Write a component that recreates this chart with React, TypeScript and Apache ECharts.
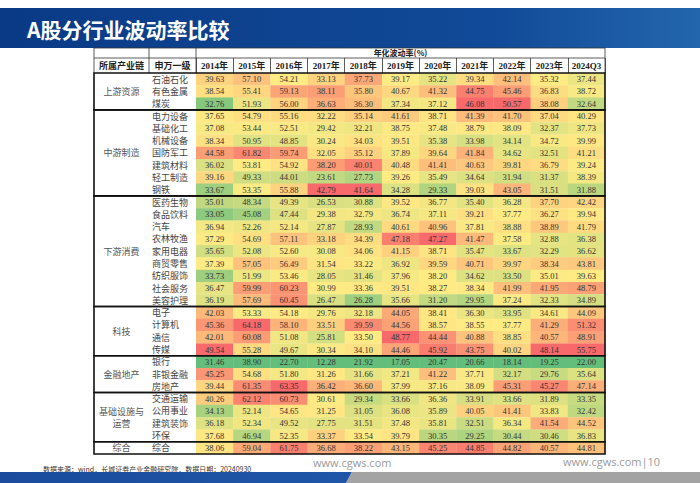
import React, { useEffect, useRef } from 'react';
import * as echarts from 'echarts';

const years = ['2014年', '2015年', '2016年', '2017年', '2018年', '2019年', '2020年', '2021年', '2022年', '2023年', '2024Q3'];

const industries = [
  '石油石化', '有色金属', '煤炭',
  '电力设备', '基础化工', '机械设备', '国防军工', '建筑材料', '轻工制造', '钢铁',
  '医药生物', '食品饮料', '汽车', '农林牧渔', '家用电器', '商贸零售', '纺织服饰', '社会服务', '美容护理',
  '电子', '计算机', '通信', '传媒',
  '银行', '非银金融', '房地产',
  '交通运输', '公用事业', '建筑装饰', '环保',
  '综合',
];

const groupNames = ['上游资源', '中游制造', '下游消费', '科技', '金融地产', '基础设施与\n运营', '综合'];
const groupSizes = [3, 7, 9, 4, 3, 4, 1];

const v2014 = [39.63, 38.54, 32.76, 37.65, 37.08, 38.34, 44.58, 36.02, 39.16, 33.67, 35.01, 33.05, 36.94, 37.29, 35.65, 37.39, 33.73, 36.47, 36.19, 42.03, 45.36, 42.01, 49.54, 31.46, 45.25, 39.44, 40.26, 34.13, 36.18, 37.68, 38.06];
const v2015 = [57.10, 55.41, 51.93, 54.79, 53.44, 50.95, 61.82, 53.81, 49.33, 53.35, 48.34, 45.08, 52.26, 54.69, 52.08, 57.05, 51.99, 59.99, 57.69, 53.33, 64.18, 60.08, 55.28, 38.90, 54.68, 61.35, 62.12, 52.14, 52.34, 46.94, 59.04];
const v2016 = [54.21, 59.13, 56.00, 55.16, 52.51, 48.85, 59.74, 54.92, 44.01, 55.88, 49.39, 47.44, 52.14, 57.11, 52.60, 56.49, 53.46, 60.23, 60.45, 54.18, 58.10, 51.08, 49.67, 22.70, 51.80, 63.35, 60.73, 54.65, 49.52, 52.35, 61.75];
const v2017 = [33.13, 38.11, 36.63, 32.22, 29.42, 30.24, 32.05, 38.20, 23.61, 42.79, 26.53, 29.38, 27.87, 33.18, 30.08, 31.54, 28.05, 30.99, 26.47, 29.76, 33.51, 25.81, 30.34, 12.28, 31.26, 36.42, 30.61, 31.25, 27.75, 33.37, 36.68];
const v2018 = [37.73, 35.80, 36.30, 35.14, 32.21, 34.03, 35.12, 40.01, 27.73, 41.64, 30.88, 32.79, 28.93, 34.39, 34.06, 33.22, 31.46, 33.36, 26.28, 32.18, 39.59, 33.50, 34.10, 21.92, 31.66, 36.60, 29.34, 31.05, 31.51, 33.54, 38.22];
const v2019 = [39.17, 40.67, 37.34, 41.61, 38.75, 39.51, 37.89, 40.48, 39.26, 34.28, 39.52, 36.74, 40.61, 47.18, 41.15, 36.92, 37.96, 39.51, 35.66, 44.05, 44.56, 48.77, 44.46, 17.05, 37.21, 37.99, 33.66, 36.08, 37.48, 39.79, 43.15];
const v2020 = [35.22, 41.32, 37.12, 38.71, 37.48, 35.38, 39.64, 41.41, 35.49, 29.33, 36.77, 37.11, 40.96, 47.27, 38.71, 39.59, 38.20, 38.27, 31.20, 38.41, 38.57, 44.44, 45.92, 20.47, 41.22, 37.16, 36.36, 35.89, 35.81, 30.35, 45.25];
const v2021 = [39.34, 44.75, 46.08, 41.39, 38.79, 33.98, 41.84, 40.63, 34.64, 39.03, 35.40, 39.21, 37.81, 41.47, 35.47, 40.71, 34.62, 38.34, 29.95, 36.30, 38.55, 40.88, 43.75, 20.66, 37.71, 38.09, 33.91, 40.05, 32.51, 29.25, 44.85];
const v2022 = [42.14, 45.46, 50.57, 41.70, 38.09, 34.14, 34.62, 39.81, 31.94, 43.05, 36.28, 37.77, 38.88, 37.58, 33.67, 39.97, 33.50, 41.99, 37.24, 33.95, 37.77, 38.85, 40.02, 18.14, 32.17, 45.31, 33.66, 41.41, 36.34, 30.44, 44.82];
const v2023 = [35.32, 36.83, 38.08, 37.04, 32.37, 34.72, 32.51, 36.79, 31.37, 31.51, 37.70, 36.27, 38.89, 32.88, 32.29, 38.34, 35.01, 41.95, 32.33, 34.61, 41.29, 40.57, 48.14, 19.25, 29.76, 45.27, 31.89, 33.83, 41.54, 30.46, 40.57];
const v2024Q3 = [37.44, 38.72, 32.64, 40.29, 37.73, 39.99, 41.21, 39.24, 38.39, 31.88, 42.42, 39.94, 41.79, 36.38, 36.62, 43.81, 39.63, 48.79, 34.89, 44.09, 51.32, 48.91, 55.75, 22.00, 35.64, 47.14, 33.35, 32.42, 44.52, 36.83, 44.81];

const columns = [v2014, v2015, v2016, v2017, v2018, v2019, v2020, v2021, v2022, v2023, v2024Q3];

const LOW = [99, 190, 123];
const MID = [255, 235, 132];
const HIGH = [248, 105, 107];

function lerp(a: number[], b: number[], t: number) {
  const c = a.map((x, i) => Math.round(x + (b[i] - x) * t));
  return `rgb(${c[0]},${c[1]},${c[2]})`;
}

function colorFor(v: number, col: number[]) {
  const s = [...col].sort((a, b) => a - b);
  const min = s[0];
  const max = s[s.length - 1];
  const pos = (s.length - 1) * 0.5;
  const lo = Math.floor(pos);
  const mid = s[lo] + (s[Math.min(lo + 1, s.length - 1)] - s[lo]) * (pos - lo);
  if (v <= mid) return lerp(LOW, MID, mid === min ? 1 : (v - min) / (mid - min));
  return lerp(MID, HIGH, max === mid ? 0 : (v - mid) / (max - mid));
}

// layout
const X0 = 94;
const X1 = 149;
const X2 = 196;
const XR = 605;
const Y0 = 48;
const Y1 = 58;
const Y2 = 73;
const YB = 454;

export default function App() {
  const ref = useRef<HTMLDivElement>(null);
  useEffect(() => {
    if (!ref.current) return;
    const chart = echarts.init(ref.current, null, { renderer: 'svg' });

    const cells: number[][] = [];
    columns.forEach((col, c) => {
      col.forEach((v, r) => {
        cells.push([c, r, v]);
      });
    });

    const groupData: number[][] = [];
    let start = 0;
    groupSizes.forEach((n, i) => {
      groupData.push([0, start, start + n - 1, i]);
      start += n;
    });

    const thin = { stroke: '#333', lineWidth: 0.8 };
    const headerLines: any[] = [
      { type: 'line', shape: { x1: X0, y1: Y0, x2: XR, y2: Y0 }, style: thin },
      { type: 'line', shape: { x1: X0, y1: Y1, x2: XR, y2: Y1 }, style: thin },
      { type: 'line', shape: { x1: X0, y1: Y0, x2: X0, y2: Y2 }, style: thin },
      { type: 'line', shape: { x1: X1, y1: Y0, x2: X1, y2: Y2 }, style: thin },
      { type: 'line', shape: { x1: X2, y1: Y0, x2: X2, y2: Y2 }, style: thin },
      { type: 'line', shape: { x1: XR, y1: Y0, x2: XR, y2: Y2 }, style: thin },
    ];

    const option: any = {
      animation: false,
      backgroundColor: '#fff',
      grid: { left: X2, top: Y2, width: XR - X2, height: YB - Y2, outerBoundsMode: 'none' },
      xAxis: {
        type: 'category',
        position: 'top',
        data: years,
        name: '年化波动率(%)',
        nameLocation: 'middle',
        nameGap: 14,
        nameTextStyle: { fontSize: 8, fontWeight: 'bold', color: '#222', fontFamily: 'Noto Sans CJK SC' },
        axisLine: { show: true, lineStyle: { color: '#222', width: 1 } },
        axisTick: { show: true, length: Y2 - Y1, lineStyle: { color: '#333', width: 0.8 } },
        axisLabel: { interval: 0, fontSize: 9, fontWeight: 'bold', color: '#222', margin: 3, fontFamily: 'Liberation Serif, Noto Sans CJK SC' },
        splitLine: { show: false },
      },
      yAxis: {
        type: 'category',
        inverse: true,
        data: industries,
        axisLine: { show: false },
        axisTick: { show: false },
        splitLine: { show: false },
        axisLabel: { show: false },
      },
      series: [
        {
          type: 'custom',
          coordinateSystem: 'cartesian2d',
          clip: false,
          silent: true,
          data: cells,
          encode: { x: 0, y: 1 },
          renderItem: (params: any, api: any) => {
            const c = api.value(0);
            const r = api.value(1);
            const v = api.value(2);
            const center = api.coord([c, r]);
            const size = api.size([1, 1]);
            const children: any[] = [
              {
                type: 'rect',
                shape: { x: center[0] - size[0] / 2, y: center[1] - size[1] / 2, width: size[0] + 0.3, height: size[1] + 0.3 },
                style: { fill: colorFor(v, columns[c]) },
              },
              {
                type: 'text',
                style: {
                  text: v.toFixed(2),
                  x: center[0],
                  y: center[1],
                  align: 'center',
                  verticalAlign: 'middle',
                  fontSize: 8.5,
                  fontFamily: 'Liberation Serif',
                  fill: '#333',
                },
              },
            ];
            if (c === 0) {
              children.push({
                type: 'text',
                style: {
                  text: industries[r],
                  x: params.coordSys.x - (X2 - X1) + 3,
                  y: center[1],
                  align: 'left',
                  verticalAlign: 'middle',
                  fontSize: 9,
                  fontFamily: 'Noto Sans CJK SC',
                  fill: '#444',
                },
              });
            }
            return { type: 'group', children };
          },
        },
        {
          type: 'custom',
          coordinateSystem: 'cartesian2d',
          clip: false,
          silent: true,
          z: 10,
          data: groupData,
          encode: { x: 0, y: 1 },
          renderItem: (params: any, api: any) => {
            const s = api.value(1);
            const e = api.value(2);
            const idx = api.value(3);
            const band = api.size([0, 1])[1];
            const top = api.coord([0, s])[1] - band / 2;
            const bottom = api.coord([0, e])[1] + band / 2;
            const cs = params.coordSys;
            const left = cs.x - (X2 - X0);
            return {
              type: 'group',
              children: [
                {
                  type: 'rect',
                  shape: { x: left, y: top, width: cs.width + (X2 - X0), height: bottom - top },
                  style: { fill: 'none', stroke: '#111', lineWidth: 1.6 },
                },
                {
                  type: 'text',
                  style: {
                    text: groupNames[idx],
                    x: left + (X1 - X0) / 2,
                    y: (top + bottom) / 2,
                    align: 'center',
                    verticalAlign: 'middle',
                    fontSize: 9,
                    lineHeight: 12,
                    fill: '#555',
                    fontFamily: 'Noto Sans CJK SC',
                  },
                },
              ],
            };
          },
        },
      ],
      graphic: [
        {
          type: 'rect',
          shape: { x: 0, y: 8, width: 700, height: 40 },
          style: {
            fill: new echarts.graphic.LinearGradient(0, 0, 1, 0, [
              { offset: 0, color: '#0a3a86' },
              { offset: 0.7, color: '#114a98' },
              { offset: 1, color: '#2366ad' },
            ]),
          },
        },
        {
          type: 'text',
          style: {
            text: 'A股分行业波动率比较',
            x: 27,
            y: 29,
            verticalAlign: 'middle',
            fontSize: 21,
            fontWeight: 'bold',
            fill: '#fff',
            fontFamily: 'Noto Sans CJK SC',
          },
        },
        ...headerLines,
        {
          type: 'text',
          style: { text: '所属产业链', x: (X0 + X1) / 2, y: (Y1 + Y2) / 2, align: 'center', verticalAlign: 'middle', fontSize: 9, fontWeight: 'bold', fill: '#222', fontFamily: 'Noto Sans CJK SC' },
        },
        {
          type: 'text',
          style: { text: '申万一级', x: (X1 + X2) / 2, y: (Y1 + Y2) / 2, align: 'center', verticalAlign: 'middle', fontSize: 9, fontWeight: 'bold', fill: '#222', fontFamily: 'Noto Sans CJK SC' },
        },
        {
          type: 'text',
          style: { text: '数据来源：wind，长城证券产业金融研究院，数据日期：20240930', x: 43, y: 469, verticalAlign: 'middle', fontSize: 7, fill: '#333', fontFamily: 'Noto Sans CJK SC' },
        },
        {
          type: 'text',
          style: { text: 'www.cgws.com', x: 313, y: 462, verticalAlign: 'middle', fontSize: 11, fill: '#9a9a9a', fontFamily: 'Open Sans' },
        },
        {
          type: 'text',
          style: { text: 'www.cgws.com|10', x: 563, y: 461, verticalAlign: 'middle', fontSize: 11, fill: '#9a9a9a', fontFamily: 'Open Sans' },
        },
        {
          type: 'polygon',
          shape: { points: [[0, 472], [352, 472], [346, 483], [0, 483]] },
          style: {
            fill: new echarts.graphic.LinearGradient(0, 0, 1, 0, [
              { offset: 0, color: '#1a4b9c' },
              { offset: 1, color: '#1f56a8' },
            ]),
          },
        },
        {
          type: 'polygon',
          shape: { points: [[352, 472], [700, 472], [700, 483], [346, 483]] },
          style: { fill: '#a3a3a3' },
        },
      ],
    };

    chart.setOption(option);
    return () => chart.dispose();
  }, []);

  return <div ref={ref} style={{ position: 'absolute', left: 0, top: 0, width: 700, height: 483 }} />;
}
